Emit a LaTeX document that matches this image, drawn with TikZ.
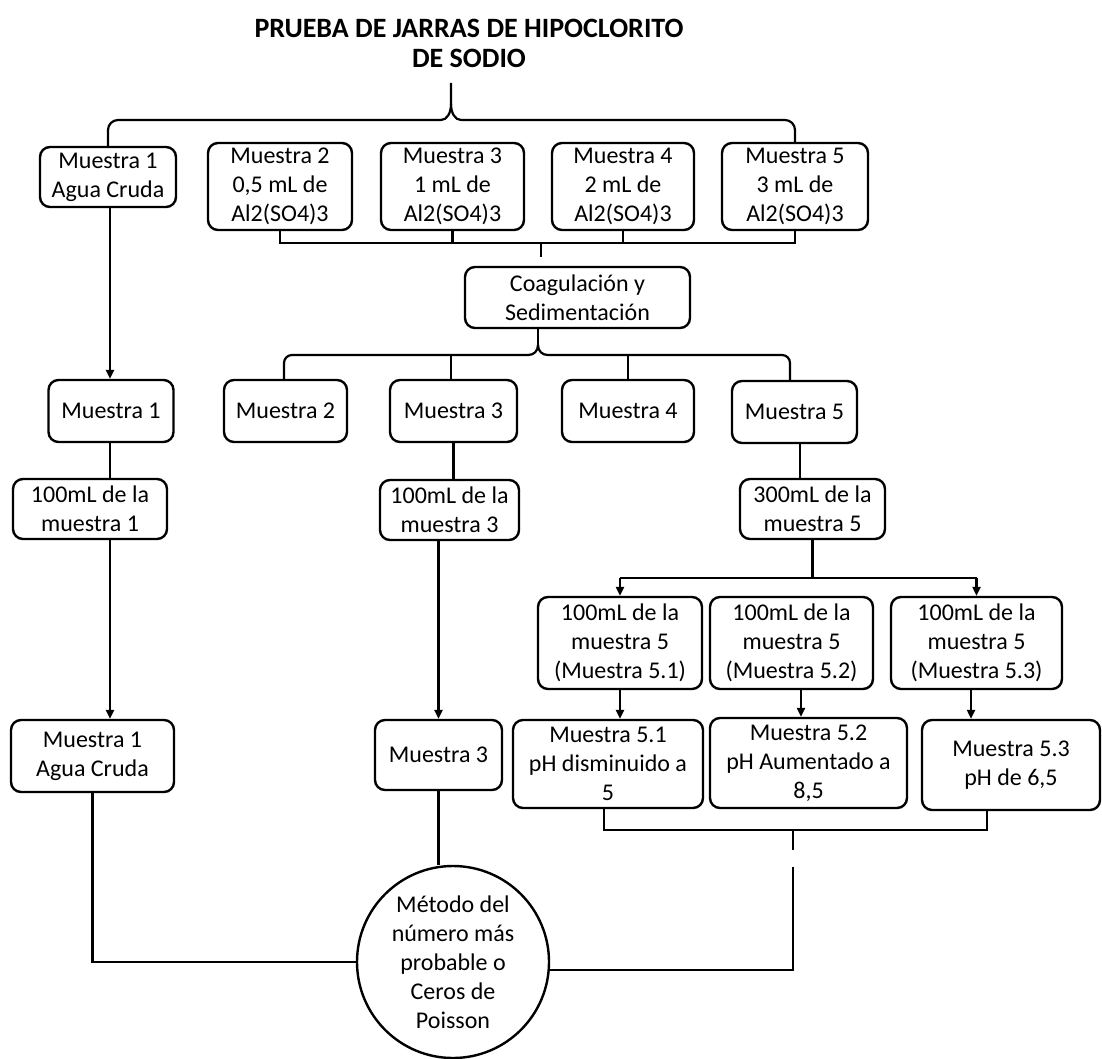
\documentclass[tikz,border=0pt]{standalone}
\usepackage{fontspec}
\setmainfont{Carlito}
\usetikzlibrary{arrows.meta,calc}
\begin{document}
\begin{tikzpicture}[x=1pt,y=-1pt,
 box/.style={draw,line width=2.4pt,rounded corners=10pt,align=center,inner sep=0pt,font=\fontsize{24}{29}\selectfont},
 conn/.style={line width=2.2pt},
 arr/.style={conn,-{Triangle[length=9pt,width=8pt]}},
]
\useasboundingbox (0,0) rectangle (1102,1059);
% title
\node[font=\bfseries\fontsize{28}{30}\selectfont,align=center] (title) at (469,43) {PRUEBA DE JARRAS DE HIPOCLORITO\\DE SODIO};
\coordinate (tip) at (451,83);
% row 1
\node[box,minimum width=136pt,minimum height=60pt] (r1a) at (108,177) {Muestra 1\\Agua Cruda};
\node[box,minimum width=144pt,minimum height=87pt] (r1b) at (280,186.5) {Muestra 2\\0,5 mL de\\Al2(SO4)3};
\node[box,minimum width=143pt,minimum height=87pt] (r1c) at (452.5,186.5) {Muestra 3\\1 mL de\\Al2(SO4)3};
\node[box,minimum width=142pt,minimum height=87pt] (r1d) at (623,186.5) {Muestra 4\\2 mL de\\Al2(SO4)3};
\node[box,minimum width=146pt,minimum height=87pt] (r1e) at (795,186.5) {Muestra 5\\3 mL de\\Al2(SO4)3};
% coag
\node[box,minimum width=225pt,minimum height=61pt] (coag) at (577.5,297.5) {Coagulación y\\Sedimentación};
% row 2
\node[box,minimum width=125pt,minimum height=62pt] (m1) at (111,411) {Muestra 1};
\node[box,minimum width=123pt,minimum height=62pt] (m2) at (285.5,411) {Muestra 2};
\node[box,minimum width=127pt,minimum height=62pt] (m3) at (453.5,411) {Muestra 3};
\node[box,minimum width=132pt,minimum height=62pt] (m4) at (628,411) {Muestra 4};
\node[box,minimum width=125pt,minimum height=62pt] (m5) at (794.5,412) {Muestra 5};
% row 3
\node[box,minimum width=154pt,minimum height=60pt] (c1) at (90,509) {100mL de la\\muestra 1};
\node[box,minimum width=139pt,minimum height=60pt] (c3) at (449.5,510) {100mL de la\\muestra 3};
\node[box,minimum width=145pt,minimum height=60pt] (c5) at (812.5,509) {300mL de la\\muestra 5};
% row 4
\node[box,minimum width=164pt,minimum height=92pt] (d1) at (620,643) {100mL de la\\muestra 5\\(Muestra 5.1)};
\node[box,minimum width=163pt,minimum height=92pt] (d2) at (791.5,643) {100mL de la\\muestra 5\\(Muestra 5.2)};
\node[box,minimum width=171pt,minimum height=92pt] (d3) at (976.5,643) {100mL de la\\muestra 5\\(Muestra 5.3)};
% row 5
\node[box,minimum width=163pt,minimum height=72pt] (e1) at (92.5,756) {Muestra 1\\Agua Cruda};
\node[box,minimum width=127pt,minimum height=70pt] (e3) at (438.5,755) {Muestra 3};
\node[box,minimum width=190pt,minimum height=88pt] (f1) at (608,764) {Muestra 5.1\\pH disminuido a\\5};
\node[box,minimum width=197pt,minimum height=90pt] (f2) at (808.5,763) {Muestra 5.2\\pH Aumentado a\\8,5};
\node[box,minimum width=178pt,minimum height=90pt] (f3) at (1011,765) {Muestra 5.3\\pH de 6,5};
% circle
\node[draw,circle,line width=2.4pt,minimum size=192pt,inner sep=0pt,align=center,font=\fontsize{24}{29}\selectfont] (circ) at (453,962) {Método del\\número más\\probable o\\Ceros de\\Poisson};

% top brace
\draw[conn,rounded corners=10pt] (r1a.north) |- (441,120);
\draw[conn] (441,120) .. controls (447,120) and (451,113) .. (451,104) -- (tip);
\draw[conn] (451,104) .. controls (451,113) and (455,120) .. (461,120);
\draw[conn,rounded corners=10pt] (r1e.north) |- (461,120);
% row1 bracket
\draw[conn] (r1b.south) -- (r1b.south |- 0,243) -- (r1e.south |- 0,243) -- (r1e.south);
\draw[conn] (r1c.south) -- (r1c.south |- 0,243);
\draw[conn] (r1d.south) -- (r1d.south |- 0,243);
\draw[conn] (541,243) -- ($(coag.north -| 541,0)+(0,-9)$);
% second brace
\draw[conn] (coag.south -| 538,0) -- (538,345);
\draw[conn] (528,355) .. controls (534,355) and (538,351) .. (538,345);
\draw[conn] (548,355) .. controls (542,355) and (538,351) .. (538,345);
\draw[conn,rounded corners=8pt] (m2.north -| 284,0) |- (528,355);
\draw[conn,rounded corners=8pt] (m5.north -| 790,0) |- (548,355);
\draw[conn] (m3.north -| 451,0) -- (451,355);
\draw[conn] (m4.north) -- (m4.north |- 0,355);
% column 1
\draw[arr] (r1a.south -| 110,0) -- (m1.north -| 110,0);
\draw[conn] (m1.south -| 110,0) -- (c1.north -| 110,0);
\draw[arr] (c1.south -| 110,0) -- (e1.north -| 110,0);
% column 3
\draw[conn] (m3.south) -- (m3.south |- c3.north);
\draw[arr] (e3.north |- c3.south) -- (e3.north);
% column 5
\draw[conn] (m5.south -| 800,0) -- (c5.north -| 800,0);
\draw[conn] (c5.south) -- (c5.south |- 0,578);
\draw[conn] (d1.north |- 0,578) -- (d3.north |- 0,578);
\draw[arr] (d1.north |- 0,578) -- (d1.north);
\draw[arr] (d3.north |- 0,578) -- (d3.north);
\draw[arr] (d1.south) -- (d1.south |- f1.north);
\draw[arr] (d2.south -| 801,0) -- (f2.north -| 801,0);
\draw[arr] (d3.south -| 971,0) -- (f3.north -| 971,0);
% bottom bracket
\draw[conn] (f1.south -| 604,0) -- (604,830) -- (987,830) -- (f3.south -| 987,0);
\draw[conn] (793,830) -- (793,850);
\draw[conn] (793,867) -- (793,970) -- (circ.east |- 0,970);
% to circle
\draw[conn] (e1.south) |- (circ.west);
\draw[conn] (e3.south) -- (e3.south |- circ.north);
\end{tikzpicture}
\end{document}
